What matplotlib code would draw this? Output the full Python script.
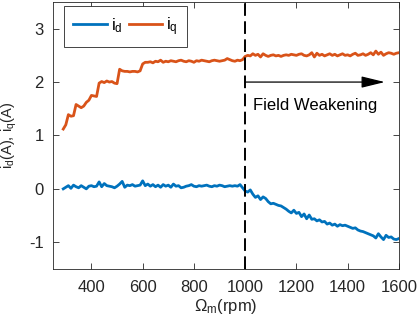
import matplotlib
matplotlib.use('Agg')
import matplotlib.pyplot as plt
import numpy as np

plt.rcParams['font.family'] = ['Liberation Sans', 'DejaVu Sans']
plt.rcParams['mathtext.fontset'] = 'custom'
plt.rcParams['mathtext.rm'] = 'Liberation Sans'
plt.rcParams['axes.unicode_minus'] = False

# speed axis (rpm), 10 rpm steps
rpm = np.arange(290, 1601, 10)

iq = [1.12, 1.20, 1.39, 1.36, 1.37, 1.58, 1.55, 1.52, 1.55, 1.62,
      1.66, 1.75, 1.74, 1.73, 1.98, 2.01, 1.99, 2.02, 2.00, 2.01,
      1.98, 1.97, 2.24, 2.21, 2.20, 2.20, 2.19, 2.20, 2.20, 2.19,
      2.21, 2.34, 2.37, 2.37, 2.38, 2.36, 2.39, 2.38, 2.41, 2.37,
      2.39, 2.38, 2.40, 2.39, 2.38, 2.40, 2.41, 2.39, 2.38, 2.40,
      2.39, 2.37, 2.40, 2.39, 2.41, 2.40, 2.39, 2.38, 2.40, 2.41,
      2.40, 2.39, 2.40, 2.41, 2.44, 2.42, 2.40, 2.39, 2.41, 2.40,
      2.42, 2.48, 2.50, 2.49, 2.53, 2.50, 2.52, 2.47, 2.53, 2.50,
      2.48, 2.50, 2.51, 2.49, 2.50, 2.48, 2.50, 2.51, 2.50, 2.52,
      2.51, 2.50, 2.52, 2.53, 2.50, 2.49, 2.51, 2.55, 2.47, 2.54,
      2.50, 2.52, 2.49, 2.51, 2.53, 2.50, 2.52, 2.49, 2.51, 2.53,
      2.50, 2.51, 2.49, 2.52, 2.54, 2.50, 2.51, 2.53, 2.50, 2.52,
      2.55, 2.51, 2.58, 2.52, 2.56, 2.50, 2.53, 2.55, 2.54, 2.52,
      2.54, 2.55]

id_ = [0.00, 0.03, 0.06, 0.01, 0.07, 0.04, 0.02, 0.06, 0.03, 0.00,
       0.05, 0.06, 0.04, 0.05, 0.13, 0.04, 0.10, 0.06, 0.05, 0.04,
       0.02, 0.05, 0.09, 0.14, 0.03, 0.07, 0.06, 0.08, 0.05, 0.06,
       0.07, 0.15, 0.06, 0.09, 0.05, 0.08, 0.04, 0.07, 0.03, 0.08,
       0.05, 0.07, 0.03, 0.09, 0.05, 0.06, 0.02, 0.03, 0.05, 0.06,
       0.08, 0.05, 0.04, 0.06, 0.05, 0.06, 0.07, 0.05, 0.04, 0.06,
       0.05, 0.07, 0.06, 0.04, 0.05, 0.06, 0.05, 0.06, 0.05, 0.08,
       0.02, -0.04, -0.06, -0.02, -0.10, -0.16, -0.13, -0.20, -0.15, -0.18,
       -0.24, -0.28, -0.27, -0.29, -0.31, -0.32, -0.35, -0.38, -0.42, -0.45,
       -0.40, -0.46, -0.44, -0.52, -0.47, -0.56, -0.49, -0.57, -0.56, -0.60,
       -0.58, -0.62, -0.61, -0.66, -0.64, -0.68, -0.66, -0.70, -0.67, -0.69,
       -0.68, -0.70, -0.72, -0.74, -0.73, -0.77, -0.79, -0.80, -0.82, -0.84,
       -0.86, -0.88, -0.92, -0.84, -0.90, -0.95, -0.87, -0.91, -0.90, -0.94,
       -0.95, -0.93]

xticks = [400, 600, 800, 1000, 1200, 1400, 1600]
yticks = [-1, 0, 1, 2, 3]
fw_start = 1000
fw_end = 1545

fig = plt.figure(figsize=(4.19, 3.28), dpi=100)
ax = fig.add_axes([0.1265, 0.180, 0.8255, 0.814])

ax.plot(rpm, id_, color='#0072BD', lw=2, label=r'$\mathregular{i_d}$')
ax.plot(rpm, iq, color='#D95319', lw=2, label=r'$\mathregular{i_q}$')
ax.axvline(fw_start, color='#000000', lw=1.4, ls=(0, (6.5, 2.8)))
ax.annotate('', xy=(fw_end, 2.0), xytext=(fw_start, 2.0),
            arrowprops=dict(arrowstyle='-|>,head_length=0.9,head_width=0.22',
                            color='black', lw=0.9,
                            mutation_scale=16, shrinkA=0, shrinkB=0))
ax.text(1031, 1.56, 'Field Weakening', fontsize=12, va='center', ha='left',
        color='#000000')

ax.set_xlim(250, 1600)
ax.set_ylim(-1.5, 3.5)
ax.set_xticks(xticks)
ax.set_yticks(yticks)
ax.tick_params(direction='in', top=True, right=True, length=4, width=0.6,
               colors='#262626', labelsize=12)
ax.tick_params(axis='x', pad=8)
ax.tick_params(axis='y', pad=6.5)
for s in ax.spines.values():
    s.set_color('#262626')
    s.set_linewidth(0.6)

ax.set_xlabel(r'$\mathregular{\Omega_m}$(rpm)', fontsize=12, color='#262626')
ax.set_ylabel(r'$\mathregular{i_d}$(A), $\mathregular{i_q}$(A)', fontsize=10.5,
              color='#262626')
ax.xaxis.set_label_coords(0.5, -0.105)
ax.yaxis.set_label_coords(-0.098, 0.5)

leg = ax.legend(loc='upper left', bbox_to_anchor=(0.032, 0.985), ncol=2,
                fontsize=12, handlelength=2.0, columnspacing=0.4,
                handletextpad=0.25, borderpad=0.55, fancybox=False,
                framealpha=1, edgecolor='#262626', borderaxespad=0)
leg.get_frame().set_linewidth(0.6)

fig.savefig('out.png', dpi=100)
